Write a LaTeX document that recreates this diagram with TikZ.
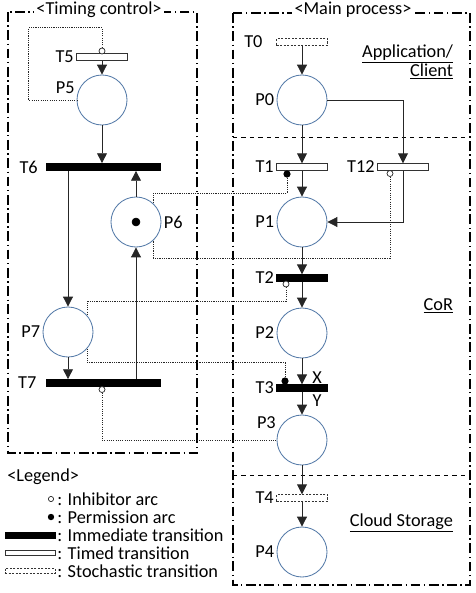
\documentclass[tikz,border=0pt]{standalone}
\usepackage{fontspec}
\setmainfont{Carlito}
\usepackage{tikz}
\usetikzlibrary{arrows.meta,positioning,calc}
\definecolor{placeblue}{RGB}{84,122,168}

\begin{document}
\begin{tikzpicture}[
  x=0.025cm, y=-0.025cm,
  font=\fontsize{13}{13.5}\selectfont,
  placecirc/.style={circle, draw=placeblue, fill=white, line width=0.6pt,
    minimum size=1.25cm, inner sep=0pt},
  immbar/.style={draw, fill=black, minimum width=1.275cm, minimum height=0.17cm,
    inner sep=0pt},
  widebar/.style={immbar, minimum width=2.85cm, minimum height=0.18cm},
  timedbar/.style={draw=black!80, fill=white, line width=0.6pt,
    minimum width=1.275cm, minimum height=0.165cm, inner sep=0pt},
  stochbar/.style={timedbar, dash pattern=on 1.5pt off 1pt},
  flowarc/.style={-{Triangle[length=7pt,width=7pt]}, line width=0.6pt, black!85},
  dotarc/.style={line width=0.5pt, dash pattern=on 0.8pt off 0.8pt, black!85},
  inhdot/.style={circle, draw=black!85, fill=white, line width=0.5pt,
    minimum size=0.15cm, inner sep=0pt},
  permdot/.style={circle, fill=black, minimum size=0.18cm, inner sep=0pt},
  regionbox/.style={line width=0.9pt, dash pattern=on 7pt off 2.5pt on 1pt off 2.5pt},
  tlbl/.style={inner sep=1.5pt}
]
\useasboundingbox (0,0) rectangle (475,593);
%% ─── Regions ───────────────────────────────────────────────────────────────
\draw[regionbox] (8,12) rectangle (197,453);
\draw[regionbox] (233,13) rectangle (470,585);
\node[fill=white, inner sep=2pt] (ttl1) at (99,10)  {<Timing control>};
\node[fill=white, inner sep=2pt] (ttl2) at (353,10) {<Main process>};
\draw[dashed, line width=0.6pt] (233,137) -- (470,137);
\draw[dashed, line width=0.6pt] (233,475) -- (470,475);
\node[anchor=east, align=right] (app)   at (458,62)  {\underline{Application/}\\\underline{Client}};
\node[anchor=east]              (cor)   at (458,306) {\underline{CoR}};
\node[anchor=east]              (cloud) at (458,523) {\underline{Cloud Storage}};
%% ─── Main process ──────────────────────────────────────────────────────────
\node[stochbar, label={[tlbl, xshift=-8pt]left:T0}] (T0)  at (302,42)  {};
\node[placecirc, label={[tlbl]left:P0}]  (P0)  at (302,100) {};
\node[timedbar, label={[tlbl]left:T1}]   (T1)  at (302,167) {};
\node[timedbar, label={[tlbl]left:T12}]  (T12) at (403,167) {};
\node[placecirc, label={[tlbl]left:P1}]  (P1)  at (302,222) {};
\node[immbar, label={[tlbl]left:T2}]     (T2)  at (302,278) {};
\node[placecirc, label={[tlbl]left:P2}]  (P2)  at (302,333) {};
\node[immbar, label={[tlbl]left:T3}]     (T3)  at (302,388) {};
\node[placecirc, label={[tlbl]160:P3}]   (P3)  at (302,440) {};
\node[stochbar, label={[tlbl]left:T4}]   (T4)  at (302,498) {};
\node[placecirc, label={[tlbl]left:P4}]  (P4)  at (302,552) {};
\node (xlab) at (317,378) {X};
\node (ylab) at (317,401) {Y};
%% ─── Timing control ────────────────────────────────────────────────────────
\node[timedbar, label={[tlbl]left:T5}]   (T5)  at (102,57)  {};
\node[placecirc, label={[tlbl]170:P5}]   (P5)  at (102,100) {};
\node[widebar, label={[tlbl, xshift=-4pt]left:T6}] (T6) at (103,167) {};
\node[placecirc, label={[tlbl]right:P6}] (P6)  at (136,222) {};
\node[draw, circle, fill=black, minimum size=0.2cm, inner sep=0pt] (tok) at (P6) {};
\node[placecirc, label={[tlbl]left:P7}]  (P7)  at (68,332)  {};
\node[widebar, label={[tlbl, xshift=-5pt]left:T7}] (T7) at (103,383) {};
%% ─── Inhibitor / permission ends ───────────────────────────────────────────
\node[inhdot]  (T5i)  at (102,51)  {};
\node[permdot] (T1p)  at (287,174) {};
\node[inhdot]  (T12i) at (390,173.5) {};
\node[inhdot]  (T2i)  at (286,284) {};
\node[permdot] (T3p)  at (285,381) {};
\node[inhdot]  (T7i)  at (102,389.5) {};
%% ─── Dotted arcs ───────────────────────────────────────────────────────────
\draw[dotarc] (T5i.north) -- ++(0,-20) -| ($(P5.west)+(-48,0)$) -- (P5.west);
\draw[dotarc] (T1p.south) -- ++(0,15) -| (P6.47);
\draw[dotarc] (T12i.south) -- ++(0,81) -| (P6.-47);
\draw[dotarc] (T2i.south) -- ++(0,14) -| (P7.40);
\draw[dotarc] (T3p.north) -- ++(0,-14.5) -| (P7.-40);
\draw[dotarc] (T7i.south) |- (P3.west);
%% ─── Arcs ──────────────────────────────────────────────────────────────────
\draw[flowarc] (T0) -- (P0);
\draw[flowarc] (P0) -- (T1);
\draw[flowarc] (P0.east) -| (T12.north);
\draw[flowarc] (T1) -- (P1);
\draw[flowarc] (T12.south) |- (P1.east);
\draw[flowarc] (P1) -- (T2);
\draw[flowarc] (T2) -- (P2);
\draw[flowarc] (P2) -- (T3);
\draw[flowarc] (T3) -- (P3);
\draw[flowarc] (P3) -- (T4);
\draw[flowarc] (T4) -- (P4);
\draw[flowarc] (T5) -- (P5);
\draw[flowarc] (P5) -- (P5 |- T6.north);
\draw[flowarc] (T6.south -| P7) -- (P7.north);
\draw[flowarc] (P6.north) -- (P6.north |- T6.south);
\draw[flowarc] (P7.south) -- (P7.south |- T7.north);
\draw[flowarc] (T7.north -| P6) -- (P6.south);
%% ─── Legend ────────────────────────────────────────────────────────────────
\node[anchor=west, inner sep=0pt] (lgd) at (7,477) {<Legend>};
\node[inhdot, minimum size=0.13cm] (lgI) at (51,499) {};
\node[permdot, minimum size=0.16cm] (lgP) at (51,517) {};
\node[immbar, minimum width=1.25cm, minimum height=0.14cm] (lgM) at (30,535) {};
\node[timedbar, minimum width=1.25cm, minimum height=0.13cm] (lgT) at (30,553) {};
\node[stochbar, minimum width=1.25cm, minimum height=0.13cm] (lgS) at (30,571) {};
\node[anchor=west, inner sep=0pt] (lgIt) at (57,499) {: Inhibitor arc};
\node[anchor=west, inner sep=0pt] (lgPt) at (57,517) {: Permission arc};
\node[anchor=west, inner sep=0pt] (lgMt) at (57,535) {: Immediate transition};
\node[anchor=west, inner sep=0pt] (lgTt) at (57,553) {: Timed transition};
\node[anchor=west, inner sep=0pt] (lgSt) at (57,571) {: Stochastic transition};
\end{tikzpicture}
\end{document}
